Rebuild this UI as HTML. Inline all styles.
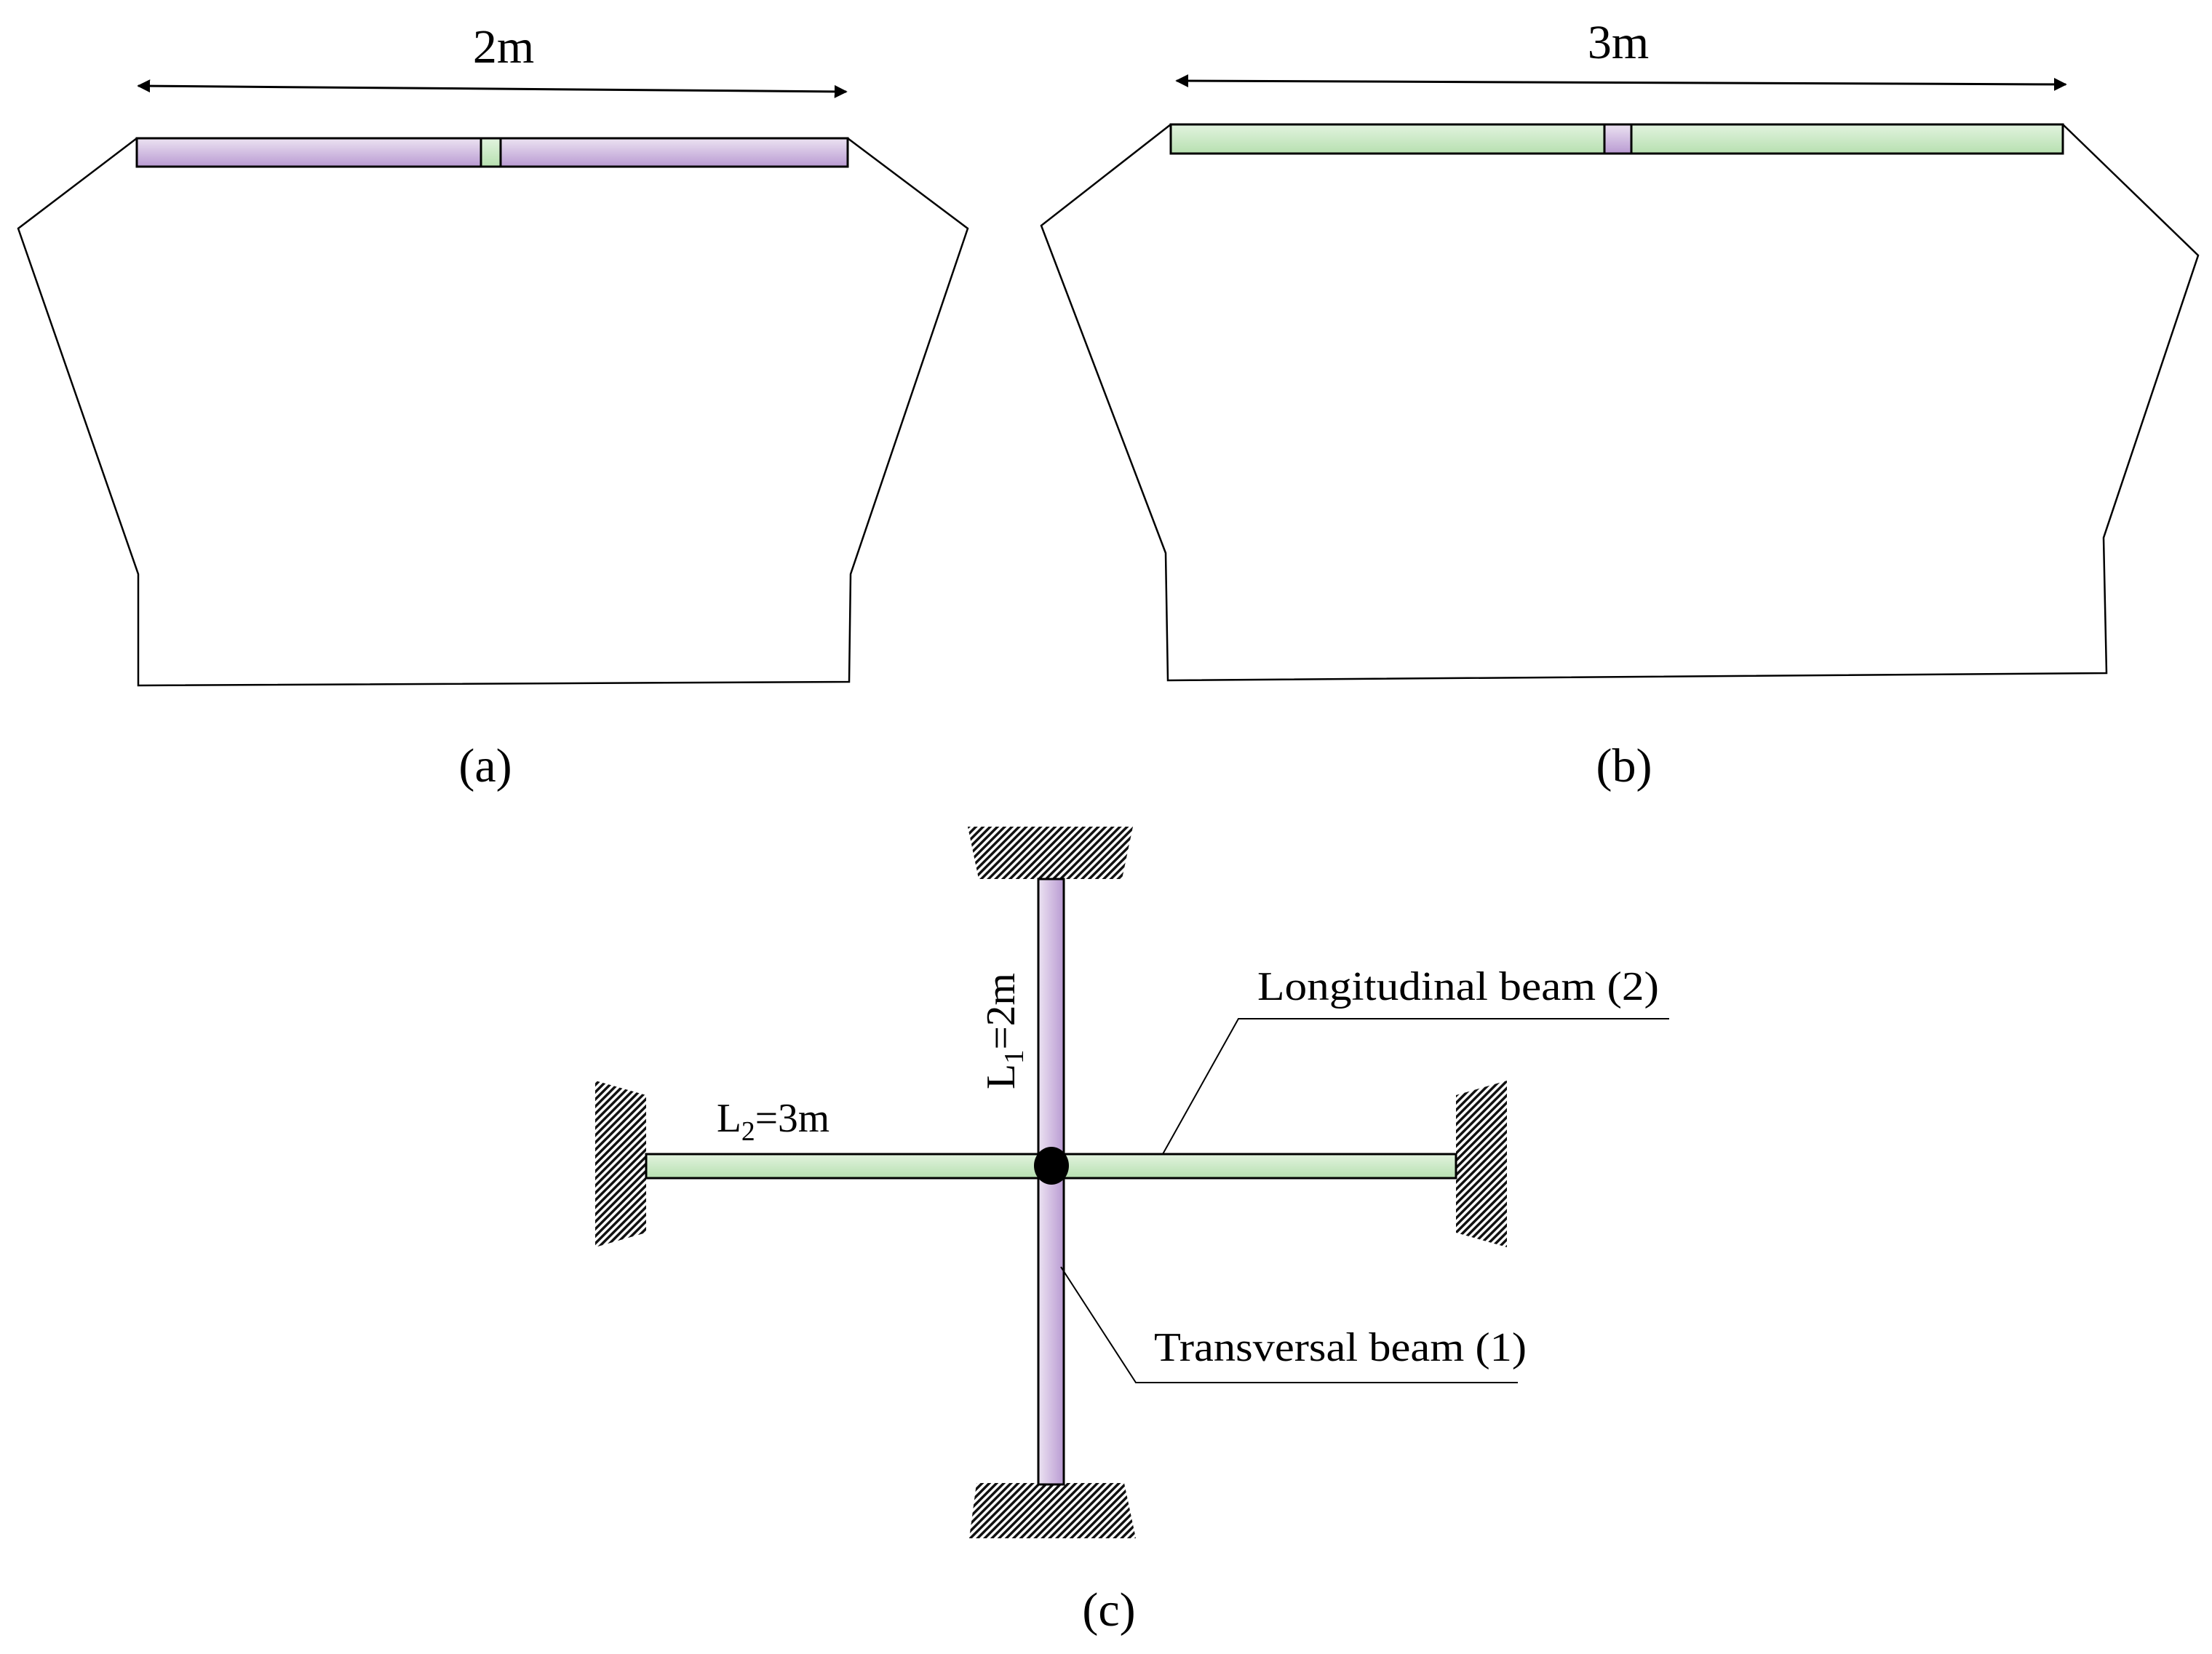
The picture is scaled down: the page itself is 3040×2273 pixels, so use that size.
<!DOCTYPE html>
<html><head><meta charset="utf-8"><style>html,body{margin:0;padding:0;background:#fff}svg{display:block}</style></head>
<body>
<svg width="3040" height="2273" viewBox="0 0 3040 2273" xmlns="http://www.w3.org/2000/svg" font-family="'Liberation Serif',serif">
<defs>
<linearGradient id="pv" x1="0" y1="0" x2="0" y2="1"><stop offset="0" stop-color="#ece3f2"/><stop offset="1" stop-color="#b99ad2"/></linearGradient>
<linearGradient id="gv" x1="0" y1="0" x2="0" y2="1"><stop offset="0" stop-color="#e2f3df"/><stop offset="1" stop-color="#b7e0b0"/></linearGradient>
<linearGradient id="ph" x1="0" y1="0" x2="1" y2="0"><stop offset="0" stop-color="#ece3f2"/><stop offset="1" stop-color="#b99ad2"/></linearGradient>
<pattern id="hat" width="7" height="7" patternUnits="userSpaceOnUse" patternTransform="rotate(45)"><rect width="7" height="7" fill="#fff"/><rect width="3.5" height="7" fill="#111"/></pattern>
<marker id="ah" viewBox="0 0 10 10" refX="9" refY="5" markerWidth="6" markerHeight="6" orient="auto-start-reverse"><path d="M0,0L10,5L0,10z" fill="#000"/></marker>
</defs>
<g fill="none" stroke="#000" stroke-width="2.5">
<polyline points="188,190 25,314 190,789 190,942 1167,937 1169,789 1330,314 1165,190"/>
<line x1="190" y1="118" x2="1163" y2="126" marker-start="url(#ah)" marker-end="url(#ah)" stroke-width="3"/>
<polyline points="1609,171 1431,310 1602,760 1605,935 2895,925 2891,739 3021,351 2835,171"/>
<line x1="1617" y1="111" x2="2839" y2="116" marker-start="url(#ah)" marker-end="url(#ah)" stroke-width="3"/>
</g>
<rect x="188" y="190" width="977" height="39" fill="url(#pv)" stroke="#000" stroke-width="3"/>
<rect x="661" y="190" width="27" height="39" fill="url(#gv)" stroke="#000" stroke-width="3"/>
<rect x="1609" y="171" width="1226" height="40" fill="url(#gv)" stroke="#000" stroke-width="3"/>
<rect x="2205" y="171" width="37" height="40" fill="url(#pv)" stroke="#000" stroke-width="3"/>
<text x="692" y="86" font-size="66" text-anchor="middle">2m</text>
<text x="2224" y="80" font-size="66" text-anchor="middle">3m</text>
<text x="667" y="1074" font-size="66" text-anchor="middle">(a)</text>
<text x="2232" y="1074" font-size="66" text-anchor="middle">(b)</text>
<polygon points="1330,1136 1557,1136 1542,1208 1345,1208" fill="url(#hat)"/>
<polygon points="1342,2038 1545,2038 1561,2114 1332,2114" fill="url(#hat)"/>
<polygon points="818,1485 888,1505 888,1694 818,1714" fill="url(#hat)"/>
<polygon points="2001,1505 2071,1485 2071,1714 2001,1694" fill="url(#hat)"/>
<rect x="1427" y="1208" width="35" height="832" fill="url(#ph)" stroke="#000" stroke-width="3"/>
<rect x="888" y="1586" width="1113" height="33" fill="url(#gv)" stroke="#000" stroke-width="3"/>
<ellipse cx="1445" cy="1602" rx="24" ry="26" fill="#000"/>
<g fill="none" stroke="#000" stroke-width="2">
<polyline points="1598,1586 1702,1400 2294,1400"/>
<polyline points="1458,1741 1561,1900 2086,1900"/>
</g>
<text x="1728" y="1374" font-size="56" textLength="552" lengthAdjust="spacingAndGlyphs">Longitudinal beam (2)</text>
<text x="1586" y="1870" font-size="56" textLength="512" lengthAdjust="spacingAndGlyphs">Transversal beam (1)</text>
<text x="985" y="1555" font-size="56" textLength="155" lengthAdjust="spacingAndGlyphs">L<tspan font-size="38" dy="12">2</tspan><tspan dy="-12">=3m</tspan></text>
<text transform="translate(1394,1497) rotate(-90)" font-size="56" textLength="160" lengthAdjust="spacingAndGlyphs">L<tspan font-size="38" dy="12">1</tspan><tspan dy="-12">=2m</tspan></text>
<text x="1524" y="2234" font-size="66" text-anchor="middle">(c)</text>
</svg>
</body></html>
